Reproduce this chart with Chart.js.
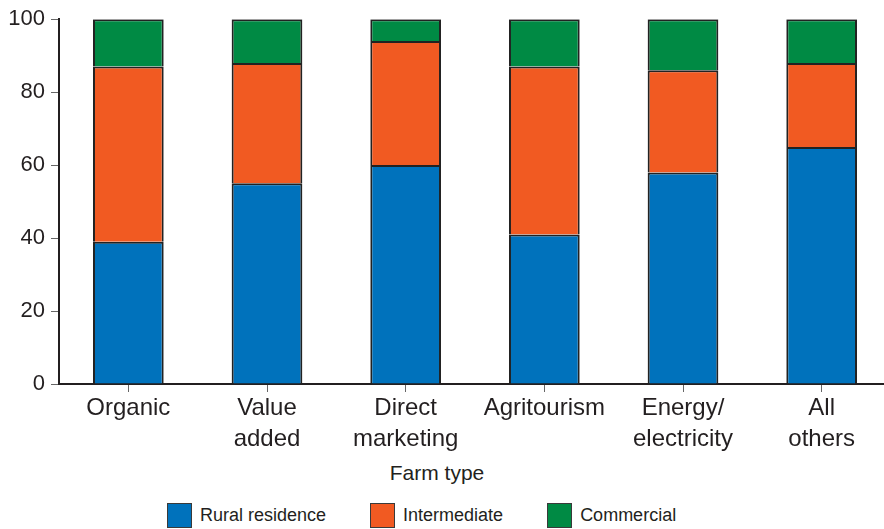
<!DOCTYPE html>
<html>
<head>
<meta charset="utf-8">
<script src="https://cdn.jsdelivr.net/npm/chart.js@4"></script>
<style>
  html, body { margin: 0; padding: 0; background: #fff; }
  #wrap { position: relative; width: 884px; height: 529px; overflow: hidden; background: #fff; }
  #holder { position: absolute; left: 0; top: 0; width: 900px; height: 460px; }
  #xtitle { position: absolute; left: 337px; width: 200px; top: 461px; text-align: center;
            font: 21px "Liberation Sans", Arial, sans-serif; color: #231f20; }
  #legend { position: absolute; left: 167px; top: 503px; display: flex; gap: 44px;
            font: 18px "Liberation Sans", Arial, sans-serif; color: #231f20; }
  .item { display: flex; align-items: center; }
  .box { width: 23px; height: 23px; border: 1px solid #3a3a3a; margin-right: 8px; }
</style>
</head>
<body>
<div id="wrap">
  <div id="holder"><canvas id="c" width="900" height="460"></canvas></div>
  <div id="xtitle"></div>
  <div id="legend"></div>
</div>
<script>
const categories = [['Organic'], ['Value', 'added'], ['Direct', 'marketing'], ['Agritourism'], ['Energy/', 'electricity'], ['All', 'others']];
const seriesNames = ['Rural residence', 'Intermediate', 'Commercial'];
const rural = [39, 55, 60, 41, 58, 65];
const intermediate = [48, 33, 34, 46, 28, 23];
const commercial = [13, 12, 6, 13, 14, 12];
const yTicks = [0, 20, 40, 60, 80, 100];
const xTitle = 'Farm type';

const colors = ['#0072bc', '#f15a22', '#008a44'];
const ink = '#231f20';
const font = '"Liberation Sans", Arial, sans-serif';

const values = [rural, intermediate, commercial];
const datasets = seriesNames.map((n, i) => ({
  label: n,
  data: values[i],
  backgroundColor: colors[i],
  borderColor: '#222',
  borderWidth: 2,
  barPercentage: 0.51,
  categoryPercentage: 1
}));

new Chart(document.getElementById('c'), {
  type: 'bar',
  data: { labels: categories, datasets },
  options: {
    responsive: false,
    animation: false,
    devicePixelRatio: 1,
    layout: { padding: { top: 17, right: 9, bottom: 6, left: 0 } },
    plugins: { legend: { display: false }, tooltip: { enabled: false } },
    scales: {
      x: {
        stacked: true,
        offset: true,
        grid: { display: true, drawOnChartArea: false, drawTicks: true, tickLength: 8, offset: false, color: '#666', lineWidth: 1 },
        border: { display: true, color: ink, width: 2 },
        ticks: { color: ink, font: { family: font, size: 24, lineHeight: 1.28 }, padding: 1, maxRotation: 0, autoSkip: false },
        afterFit: s => { s.height = 70; }
      },
      y: {
        stacked: true,
        min: 0, max: 100,
        afterBuildTicks: s => { s.ticks = yTicks.map(v => ({ value: v })); },
        grid: { display: true, drawOnChartArea: false, drawTicks: true, tickLength: 8, color: '#666', lineWidth: 1 },
        border: { display: true, color: ink, width: 2 },
        ticks: { color: ink, font: { family: font, size: 22 }, padding: 6 },
        afterFit: s => { s.width = 59; }
      }
    }
  }
});

document.getElementById('xtitle').textContent = xTitle;
const lg = document.getElementById('legend');
seriesNames.forEach((n, i) => {
  const it = document.createElement('div'); it.className = 'item';
  const b = document.createElement('div'); b.className = 'box'; b.style.background = colors[i];
  const t = document.createElement('span'); t.textContent = n;
  it.appendChild(b); it.appendChild(t); lg.appendChild(it);
});
</script>
</body>
</html>
